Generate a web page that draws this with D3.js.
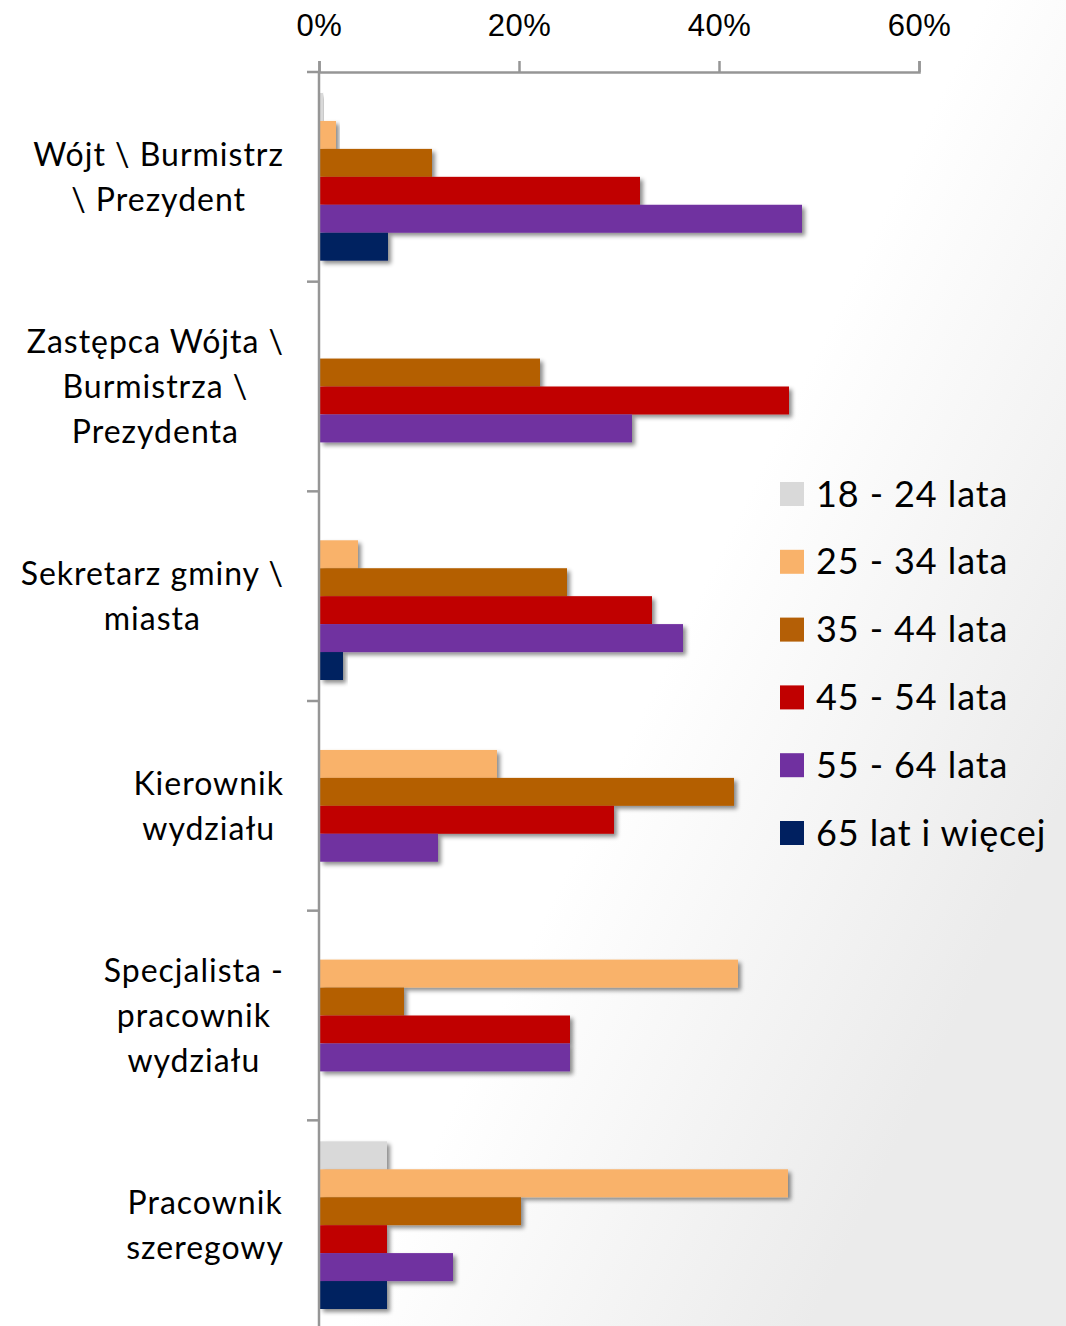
<!DOCTYPE html>
<html>
<head>
<meta charset="utf-8">
<script src="https://cdn.jsdelivr.net/npm/d3@7"></script>
<style>
  body { margin: 0; background: #fff; }
  svg { display: block; font-family: Lato, 'Noto Sans', sans-serif; }
</style>
</head>
<body>
<div id="chart"></div>
<script>
// categories (each label split into lines as in the picture)
var categories = ['Wójt', 'Zastępca', 'Sekretarz', 'Kierownik', 'Specjalista', 'Pracownik'];
var categoryLines = [
    ['Wójt \\ Burmistrz', '\\ Prezydent'],
    ['Zastępca Wójta \\', 'Burmistrza \\', 'Prezydenta'],
    ['Sekretarz gminy \\', 'miasta'],
    ['Kierownik', 'wydziału'],
    ['Specjalista -', 'pracownik', 'wydziału'],
    ['Pracownik', 'szeregowy']
];
var seriesNames = ['18 - 24 lata', '25 - 34 lata', '35 - 44 lata', '45 - 54 lata', '55 - 64 lata', '65 lat i więcej'];
var seriesColors = ['#d9d9d9', '#f9b26a', '#b45f06', '#c00000', '#7030a0', '#002060'];

// values in percent, one array per age group, in category order
var v18_24 = [0.3, 0, 0, 0, 0, 6.7];
var v25_34 = [1.6, 0, 3.8, 17.7, 41.8, 46.8];
var v35_44 = [11.2, 22.0, 24.7, 41.4, 8.4, 20.1];
var v45_54 = [32.0, 46.9, 33.2, 29.4, 25.0, 6.7];
var v55_64 = [48.2, 31.2, 36.3, 11.8, 25.0, 13.3];
var v65 = [6.8, 0, 2.3, 0, 0, 6.7];
var seriesValues = [v18_24, v25_34, v35_44, v45_54, v55_64, v65];

var tickValues = [0, 20, 40, 60];

var W = 1066, H = 1326;
var margin = {top: 72, left: 319};
var plotRight = 919, plotBottom = 1330;

var svg = d3.select('#chart').append('svg')
    .attr('width', W)
    .attr('height', H);

var defs = svg.append('defs');
var grad = defs.append('linearGradient')
    .attr('id', 'bg')
    .attr('x1', '0').attr('y1', '0')
    .attr('x2', '1').attr('y2', '0.6');
grad.append('stop').attr('offset', '0.68').attr('stop-color', '#ffffff');
grad.append('stop').attr('offset', '1').attr('stop-color', '#ebebeb');

var shadow = defs.append('filter')
    .attr('id', 'shadow')
    .attr('x', '-10%').attr('y', '-30%')
    .attr('width', '130%').attr('height', '170%');
shadow.append('feDropShadow')
    .attr('dx', 3).attr('dy', 3)
    .attr('stdDeviation', 2.2)
    .attr('flood-color', '#000')
    .attr('flood-opacity', 0.45);

svg.append('rect')
    .attr('width', W).attr('height', H)
    .attr('fill', 'url(#bg)');

var x = d3.scaleLinear()
    .domain([0, 60])
    .range([margin.left, plotRight]);

var y = d3.scaleBand()
    .domain(categories)
    .range([margin.top, plotBottom]);

var ySeries = d3.scaleBand()
    .domain(d3.range(seriesNames.length))
    .range([21, y.bandwidth() - 21]);

// bars
var groups = svg.selectAll('g.cat')
    .data(categories)
    .enter()
    .append('g')
    .attr('class', 'cat')
    .attr('transform', function(d) { return 'translate(0,' + y(d) + ')'; });

groups.selectAll('rect')
    .data(function(d, i) {
        return seriesValues.map(function(vals, s) { return {s: s, value: vals[i]}; });
    })
    .enter()
    .filter(function(d) { return d.value > 0; })
    .append('rect')
    .attr('x', x(0) + 1)
    .attr('y', function(d) { return ySeries(d.s); })
    .attr('width', function(d) { return x(d.value) - x(0); })
    .attr('height', ySeries.bandwidth())
    .attr('fill', function(d) { return seriesColors[d.s]; })
    .attr('filter', 'url(#shadow)');

// top axis
var xAxis = d3.axisTop(x)
    .tickValues(tickValues)
    .tickSize(11)
    .tickPadding(25)
    .tickFormat(function(d) { return d + '%'; });

var gx = svg.append('g')
    .attr('transform', 'translate(0,' + margin.top + ')')
    .call(xAxis);
gx.select('.domain').attr('stroke', '#969696').attr('stroke-width', 2.5);
gx.selectAll('.tick line').attr('stroke', '#969696').attr('stroke-width', 2.5);
gx.selectAll('.tick text')
    .attr('fill', '#000')
    .style('font-size', '31px')
    .style('letter-spacing', '0.5px');

// left axis line with ticks at category boundaries
var boundaries = categories.map(function(c) { return y(c); }).concat([plotBottom]);
svg.append('line')
    .attr('x1', x(0)).attr('x2', x(0))
    .attr('y1', margin.top).attr('y2', plotBottom)
    .attr('stroke', '#969696').attr('stroke-width', 2.5);
svg.selectAll('line.ytick')
    .data(boundaries)
    .enter()
    .append('line')
    .attr('class', 'ytick')
    .attr('x1', x(0) - 12).attr('x2', x(0))
    .attr('y1', function(d) { return d; }).attr('y2', function(d) { return d; })
    .attr('stroke', '#969696').attr('stroke-width', 2.5);

// category labels: lines centred on each other, block right-aligned
var lineH = 45;
var labelRight = 284;
categories.forEach(function(c, i) {
    var lines = categoryLines[i];
    var g = svg.append('g');
    var texts = g.selectAll('text')
        .data(lines)
        .enter()
        .append('text')
        .attr('text-anchor', 'middle')
        .attr('dy', '0.35em')
        .style('font-size', '32px')
        .style('letter-spacing', '1px')
        .attr('fill', '#000')
        .text(function(d) { return d; });
    var maxW = 0;
    texts.each(function() { maxW = Math.max(maxW, this.getComputedTextLength()); });
    var cy = y(c) + y.bandwidth() / 2;
    texts
        .attr('x', labelRight - maxW / 2)
        .attr('y', function(d, j) { return cy + (j - (lines.length - 1) / 2) * lineH; });
});

// legend
var legend = svg.append('g')
    .attr('transform', 'translate(780,494)');
var items = legend.selectAll('g')
    .data(seriesNames)
    .enter()
    .append('g')
    .attr('transform', function(d, i) { return 'translate(0,' + (i * 67.8) + ')'; });
items.append('rect')
    .attr('x', 0).attr('y', -12)
    .attr('width', 24).attr('height', 24)
    .attr('fill', function(d, i) { return seriesColors[i]; });
items.append('text')
    .attr('x', 36)
    .attr('dy', '0.35em')
    .style('font-size', '36px')
    .style('letter-spacing', '0.9px')
    .attr('fill', '#000')
    .text(function(d) { return d; });
</script>
</body>
</html>
